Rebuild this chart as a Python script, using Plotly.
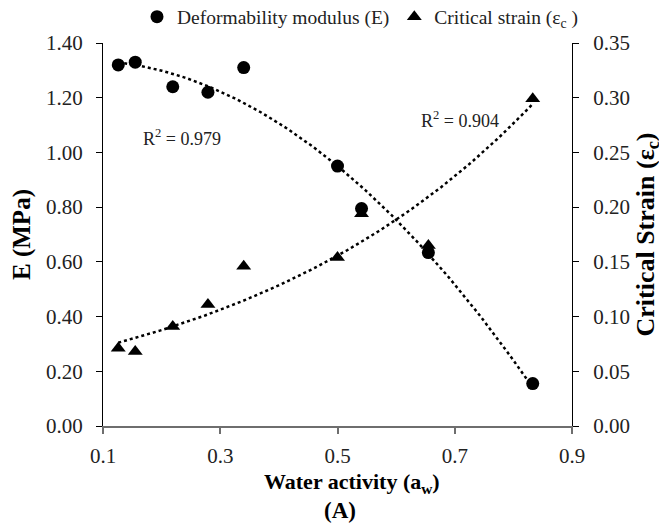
import numpy as np
import plotly.graph_objects as go

# ---- data ----
water_activity = [0.126, 0.155, 0.219, 0.279, 0.340, 0.500, 0.541, 0.655, 0.833]
modulus_E = [1.32, 1.33, 1.24, 1.22, 1.31, 0.95, 0.795, 0.634, 0.155]
critical_strain = [0.071, 0.068, 0.091, 0.111, 0.146, 0.154, 0.194, 0.165, 0.299]
r2_E = "0.979"
r2_strain = "0.904"
left_ticks = [0.0, 0.2, 0.4, 0.6, 0.8, 1.0, 1.2, 1.4]
right_ticks = [0.0, 0.05, 0.10, 0.15, 0.20, 0.25, 0.30, 0.35]
x_ticks = [0.1, 0.3, 0.5, 0.7, 0.9]

aw = np.array(water_activity)
E = np.array(modulus_E)
eps = np.array(critical_strain)

# Excel-style trendlines: polynomial (order 2) for E, exponential for strain
pE = np.polyfit(aw, E, 2)
pS = np.polyfit(aw, np.log(eps), 1)
xs = np.linspace(aw.min(), aw.max(), 200)
fitE = np.polyval(pE, xs)
fitS = np.exp(np.polyval(pS, xs))

FONT = "Liberation Serif, Times New Roman, serif"

# plot-area geometry (figure pixels)
ML, MT, PW, PH = 95, 35, 469, 383
W, H = 667, 527

fig = go.Figure()
fig.add_trace(go.Scatter(x=xs, y=fitE, mode="lines", showlegend=False,
                         line=dict(color="black", width=2.5, dash="dot"), hoverinfo="skip"))
fig.add_trace(go.Scatter(x=xs, y=fitS, mode="lines", showlegend=False, yaxis="y2",
                         line=dict(color="black", width=2.5, dash="dot"), hoverinfo="skip"))
fig.add_trace(go.Scatter(x=aw, y=E, mode="markers", name="Deformability modulus (E)",
                         marker=dict(symbol="circle", size=13, color="black")))
fig.add_trace(go.Scatter(x=aw, y=eps, mode="markers", name="Critical strain (ε<sub>c</sub> )",
                         yaxis="y2",
                         marker=dict(symbol="triangle-up", size=13, color="black")))

fig.add_annotation(x=0.234, y=1.053, xref="x", yref="y", showarrow=False,
                   text="R<sup>2</sup> = " + r2_E, font=dict(family=FONT, size=18, color="#222"))
fig.add_annotation(x=0.709, y=1.119, xref="x", yref="y", showarrow=False,
                   text="R<sup>2</sup> = " + r2_strain, font=dict(family=FONT, size=18, color="#222"))
# x-axis title (placed as annotation to match the reference offset)
fig.add_annotation(x=(344 - ML) / PW, y=-(459 - (MT + PH)) / PH, xref="paper", yref="paper",
                   showarrow=False, yanchor="top",
                   text="<b>Water activity (a<sub>w</sub>)</b>",
                   font=dict(family=FONT, size=22, color="black"))
fig.add_annotation(x=(332 - ML) / PW, y=-(502 - (MT + PH)) / PH, xref="paper", yref="paper",
                   showarrow=False, yanchor="middle",
                   text="<b>(A)</b>", font=dict(family=FONT, size=23, color="black"))

fig.update_layout(
    width=W, height=H,
    margin=dict(l=ML, r=W - ML - PW, t=MT, b=H - MT - PH, autoexpand=False),
    paper_bgcolor="white", plot_bgcolor="white",
    font=dict(family=FONT, size=21, color="#222"),
    showlegend=True,
    legend=dict(orientation="h", x=(129 - ML) / PW, xanchor="left",
                y=1 + (MT - 9) / PH, yanchor="middle",
                font=dict(family=FONT, size=19.5, color="#222"), itemwidth=30,
                bgcolor="rgba(0,0,0,0)", tracegroupgap=0),
    xaxis=dict(range=[0.1, 0.9], tickvals=x_ticks, tickformat=".1f", automargin=False,
               showgrid=False, zeroline=False, showline=True, linecolor="#6e6e6e", linewidth=2,
               ticks="outside", ticklen=6, tickcolor="#6e6e6e", tickwidth=1.5,
               ticklabelstandoff=4),
    yaxis=dict(range=[0, 1.4], tickvals=left_ticks, tickformat=".2f", automargin=False,
               showgrid=False, zeroline=False, showline=True, linecolor="black", linewidth=1,
               ticks="outside", ticklen=6, tickcolor="black",
               ticklabelstandoff=9,
               title=dict(text="<b>E (MPa)</b>", standoff=8,
                          font=dict(family=FONT, size=25, color="black"))),
    yaxis2=dict(range=[0, 0.35], tickvals=right_ticks, tickformat=".2f", automargin=False,
                overlaying="y", side="right",
                showgrid=False, zeroline=False, showline=True, linecolor="black", linewidth=1,
                ticks="outside", ticklen=6, tickcolor="black",
                ticklabelstandoff=10,
                title=dict(text="<b>Critical Strain (ε<sub>c</sub>)</b>", standoff=6,
                           font=dict(family=FONT, size=26, color="black"))),
)

fig.write_html("out.html")
